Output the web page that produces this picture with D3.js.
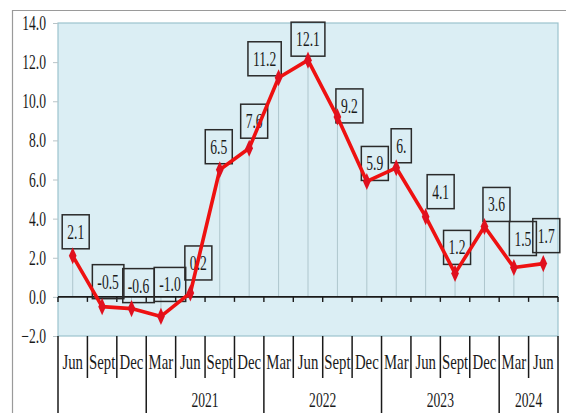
<!DOCTYPE html>
<html>
<head>
<meta charset="utf-8">
<script src="https://cdn.jsdelivr.net/npm/d3@7/dist/d3.min.js"></script>
<style>
html,body{margin:0;padding:0;background:#fff;}
svg{display:block;}
text{font-family:"Liberation Serif","DejaVu Serif",serif;fill:#1a1a1a;}
</style>
</head>
<body>
<svg id="chart" width="566" height="413"></svg>
<script>
// ---- data ----
const periods = ["Jun","Sept","Dec","Mar","Jun","Sept","Dec","Mar","Jun","Sept","Dec","Mar","Jun","Sept","Dec","Mar","Jun"];
const values  = [2.1,-0.5,-0.6,-1.0,0.2,6.5,7.6,11.2,12.1,9.2,5.9,6.6,4.1,1.2,3.6,1.5,1.7];
const valueLabels = ["2.1","-0.5","-0.6","-1.0","0.2","6.5","7.6","11.2","12.1","9.2","5.9","6.","4.1","1.2","3.6","1.5","1.7"];
const yearLabels = ["","2021","2022","2023","2024"];
const yearSpans  = [3,4,4,4,2];
const yTicks = [-2,0,2,4,6,8,10,12,14];

// ---- layout ----
const W = 566, H = 413;
const plot = {left:58, right:558, top:23, bottom:336};
const catBottom = 378;
// label box center offsets relative to each point
const labelOffsets = [[3,-24],[6,-25],[7,-23],[9,-32],[8,-30],[-1,-23],[5,-27],[-14,-19],[0,-21],[12,-11],[8,-18],[5,-22],[15,-25],[2,-26],[12,-22],[9,-29],[3,-28]];
const SX = 0.68;
const FS = "20px";

const svg = d3.select("#chart");

const x = d3.scaleBand().domain(d3.range(periods.length)).range([plot.left, plot.right]).padding(0);
const y = d3.scaleLinear().domain([-2,14]).range([plot.bottom, plot.top]);
const cx = i => x(i) + x.bandwidth()/2;

// outer frame
svg.append("line").attr("x1",12).attr("x2",W).attr("y1",10.5).attr("y2",10.5).attr("stroke","#9a9a9a").attr("stroke-width",1.2);
svg.append("line").attr("x1",12.5).attr("x2",12.5).attr("y1",10).attr("y2",H).attr("stroke","#9a9a9a").attr("stroke-width",1.2);

// plot background
svg.append("rect").attr("x",plot.left).attr("y",plot.top)
  .attr("width",plot.right-plot.left).attr("height",plot.bottom-plot.top)
  .attr("fill","#dbeef4").attr("stroke","#9cc3cd").attr("stroke-width",1.2);

// y axis
const yAxis = d3.axisLeft(y).tickValues(yTicks).tickFormat(d3.format(".1f")).tickSize(5).tickPadding(0);
const yg = svg.append("g").attr("transform",`translate(${plot.left},0)`).call(yAxis);
yg.select(".domain").remove();
yg.selectAll(".tick line").attr("stroke","#b8c4c8");
yg.selectAll(".tick text")
  .attr("x",null).attr("dy","0.33em")
  .attr("transform",`translate(-12,0) scale(${SX},1)`)
  .style("font-size",FS).style("font-family","'Liberation Serif',serif").attr("fill","#1a1a1a");

// drop lines
svg.append("g").selectAll("line").data(values).join("line")
  .attr("x1",(d,i)=>cx(i)).attr("x2",(d,i)=>cx(i))
  .attr("y1",d=>y(d)).attr("y2",y(0))
  .attr("stroke","#aec6cd").attr("stroke-width",1);

// zero axis line with ticks at band boundaries
svg.append("line").attr("x1",plot.left).attr("x2",plot.right).attr("y1",y(0)).attr("y2",y(0))
  .attr("stroke","#1a1a1a").attr("stroke-width",1.6);
const bounds = d3.range(periods.length+1).map(i => plot.left + i*x.bandwidth());
svg.append("g").selectAll("line").data(bounds).join("line")
  .attr("x1",d=>d).attr("x2",d=>d).attr("y1",y(0)).attr("y2",y(0)+5)
  .attr("stroke","#1a1a1a").attr("stroke-width",1.4);

// label boxes (under the line)
const lg = svg.append("g");
valueLabels.forEach((t,i)=>{
  const bx = cx(i)+labelOffsets[i][0], by = y(values[i])+labelOffsets[i][1];
  const g = lg.append("g");
  const txt = g.append("text").text(t).attr("text-anchor","middle")
    .attr("transform",`translate(${bx},${by+7}) scale(${SX},1)`)
    .style("font-size",FS);
  const w = txt.node().getComputedTextLength()*SX + 10;
  g.insert("rect","text").attr("x",bx-w/2).attr("y",by-17).attr("width",w).attr("height",34)
    .attr("fill","none").attr("stroke","#2a2a2a").attr("stroke-width",1.5);
});

// line + markers
const line = d3.line().x((d,i)=>cx(i)).y(d=>y(d));
svg.append("path").datum(values).attr("d",line).attr("fill","none")
  .attr("stroke","#ee1111").attr("stroke-width",3.6).attr("stroke-linejoin","round");
svg.append("g").selectAll("path").data(values).join("path")
  .attr("transform",(d,i)=>`translate(${cx(i)},${y(d)}) scale(0.85,1.1)`)
  .attr("d",d3.symbol().type(d3.symbolDiamond).size(70))
  .attr("fill","#e0101e");

// category axis
const cat = svg.append("g");
cat.append("line").attr("x1",plot.left).attr("x2",plot.left).attr("y1",plot.bottom).attr("y2",H)
  .attr("stroke","#1a1a1a").attr("stroke-width",1.5);
const yearBounds = [0];
yearSpans.forEach(s=>yearBounds.push(yearBounds[yearBounds.length-1]+s));
bounds.forEach((b,i)=>{
  if(i===0) return;
  const isYear = yearBounds.includes(i);
  cat.append("line").attr("x1",b).attr("x2",b).attr("y1",plot.bottom).attr("y2",isYear?H:catBottom)
    .attr("stroke","#1a1a1a").attr("stroke-width",1.5);
});
cat.selectAll("text.per").data(periods).join("text").attr("class","per")
  .text(d=>d).attr("text-anchor","middle")
  .attr("transform",(d,i)=>`translate(${cx(i)},369) scale(0.74,1)`)
  .style("font-size",FS);
yearLabels.forEach((t,k)=>{
  if(!t) return;
  const mid = plot.left + (yearBounds[k]+yearBounds[k+1])/2*x.bandwidth();
  cat.append("text").text(t).attr("text-anchor","middle")
    .attr("transform",`translate(${mid},407) scale(${SX},1)`)
    .style("font-size",FS);
});
</script>
</body>
</html>
